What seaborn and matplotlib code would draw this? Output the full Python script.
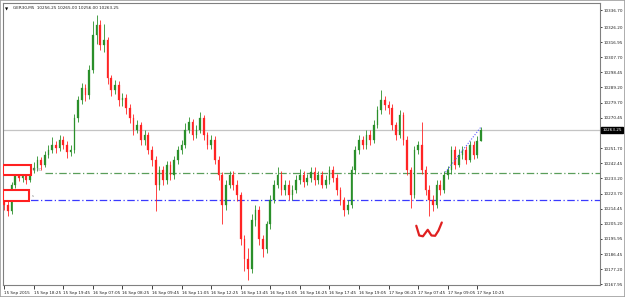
import matplotlib
matplotlib.use("Agg")
import matplotlib.pyplot as plt
import matplotlib.transforms as mtransforms
from matplotlib.patches import Rectangle
import numpy as np
import pandas as pd
import seaborn as sns

# ---------------- data (GER30, M5, shown as 10-minute candles) ----------------
first_open = 10221.0
closes = [10217.0, 10212.8, 10229.3, 10237.3, 10233.6, 10237.3, 10232.4, 10238.5, 10239.8, 10244.7,
          10241.6, 10247.7, 10250.8, 10253.9, 10252.0, 10256.9, 10253.9, 10249.6, 10250.8, 10270.4,
          10281.5, 10288.8, 10284.5, 10299.9, 10321.4, 10327.5, 10315.2, 10318.3, 10295.0, 10287.6,
          10290.7, 10281.5, 10282.7, 10276.6, 10270.4, 10263.1, 10266.1, 10256.9, 10260.0, 10250.8,
          10244.7, 10229.3, 10238.5, 10232.4, 10241.6, 10235.5, 10244.7, 10250.8, 10253.9, 10263.1,
          10268.0, 10260.0, 10263.1, 10270.4, 10260.0, 10253.9, 10256.9, 10244.7, 10235.5, 10217.0,
          10229.3, 10235.5, 10229.3, 10223.2, 10195.6, 10183.3, 10177.2, 10207.8, 10214.0, 10195.6,
          10189.4, 10204.8, 10220.1, 10229.3, 10235.5, 10226.3, 10229.3, 10223.2, 10226.3, 10232.4,
          10235.5, 10231.2, 10233.6, 10237.3, 10232.4, 10235.5, 10229.3, 10232.4, 10238.5, 10233.6,
          10226.3, 10220.1, 10214.0, 10217.0, 10238.5, 10250.8, 10256.9, 10253.9, 10260.0, 10256.9,
          10266.1, 10275.3, 10281.5, 10278.4, 10276.6, 10266.1, 10260.0, 10272.3, 10256.9, 10238.5,
          10223.2, 10250.8, 10253.9, 10238.5, 10226.3, 10220.1, 10217.0, 10229.3, 10226.3, 10235.5,
          10238.5, 10250.8, 10241.6, 10247.7, 10250.8, 10244.7, 10253.9, 10247.7, 10256.25, 10263.25]
highs = [10223.5, 10219.0, 10231.0, 10240.5, 10239.5, 10239.0, 10239.0, 10241.0, 10243.0, 10247.0,
         10246.5, 10250.0, 10253.5, 10258.5, 10256.0, 10260.0, 10259.0, 10256.0, 10254.0, 10273.0,
         10284.0, 10292.0, 10291.0, 10303.0, 10330.0, 10333.6, 10331.0, 10328.0, 10320.0, 10297.0,
         10294.0, 10293.0, 10286.0, 10285.0, 10279.0, 10273.0, 10269.0, 10268.0, 10263.0, 10262.0,
         10253.0, 10247.0, 10241.0, 10241.0, 10244.0, 10244.0, 10247.0, 10253.0, 10257.0, 10267.0,
         10271.0, 10270.0, 10266.0, 10274.1, 10272.0, 10262.0, 10260.0, 10259.0, 10247.0, 10237.0,
         10232.0, 10238.0, 10238.0, 10232.0, 10225.0, 10198.0, 10190.0, 10211.0, 10217.0, 10216.0,
         10198.0, 10207.0, 10223.0, 10232.0, 10240.0, 10238.0, 10232.0, 10232.0, 10229.0, 10235.0,
         10239.0, 10238.0, 10236.0, 10240.0, 10240.0, 10238.0, 10238.0, 10235.0, 10241.0, 10241.0,
         10236.0, 10228.0, 10222.0, 10220.0, 10241.0, 10253.0, 10260.0, 10259.0, 10263.0, 10263.0,
         10269.0, 10278.0, 10287.6, 10284.0, 10281.0, 10279.0, 10268.0, 10275.0, 10274.0, 10259.0,
         10240.0, 10253.0, 10256.5, 10268.0, 10241.0, 10229.0, 10223.0, 10232.0, 10232.0, 10238.0,
         10241.0, 10253.0, 10253.0, 10251.0, 10253.0, 10253.0, 10256.0, 10256.0, 10259.0, 10265.0]
lows = [10213.5, 10209.7, 10211.5, 10227.5, 10231.5, 10231.0, 10230.0, 10231.0, 10236.5, 10238.0,
        10238.5, 10240.0, 10245.5, 10249.0, 10249.0, 10250.0, 10251.0, 10246.0, 10247.0, 10249.0,
        10268.0, 10279.0, 10281.0, 10282.0, 10298.0, 10316.0, 10312.0, 10311.0, 10291.0, 10284.0,
        10285.0, 10278.0, 10278.0, 10273.0, 10267.0, 10260.0, 10261.0, 10254.0, 10254.0, 10248.0,
        10241.0, 10212.8, 10226.0, 10229.0, 10230.0, 10232.0, 10233.0, 10242.0, 10248.0, 10252.0,
        10261.0, 10257.0, 10258.0, 10261.0, 10257.0, 10251.0, 10251.0, 10242.0, 10232.0, 10204.8,
        10214.0, 10227.0, 10226.0, 10219.0, 10192.0, 10176.0, 10170.4, 10175.0, 10204.0, 10192.0,
        10184.5, 10187.0, 10202.0, 10218.0, 10227.0, 10223.0, 10223.0, 10220.0, 10220.0, 10224.0,
        10230.0, 10228.0, 10229.0, 10231.0, 10229.0, 10230.0, 10227.0, 10227.0, 10230.0, 10231.0,
        10223.0, 10217.0, 10209.7, 10211.0, 10215.0, 10236.0, 10248.0, 10251.0, 10251.0, 10254.0,
        10255.0, 10264.0, 10273.0, 10275.0, 10273.0, 10263.0, 10257.0, 10258.0, 10254.0, 10235.0,
        10215.2, 10221.0, 10248.0, 10236.0, 10223.0, 10209.7, 10213.0, 10215.0, 10223.0, 10224.0,
        10233.0, 10236.0, 10239.0, 10240.0, 10245.0, 10242.0, 10243.0, 10245.0, 10246.0, 10256.0]
opens = [first_open] + closes[:-1]

x_labels = ["15 Sep 2015", "15 Sep 18:25", "15 Sep 19:45", "16 Sep 07:05", "16 Sep 08:25",
            "16 Sep 09:45", "16 Sep 11:05", "16 Sep 12:25", "16 Sep 13:45", "16 Sep 15:05",
            "16 Sep 16:25", "16 Sep 17:45", "16 Sep 19:05", "17 Sep 06:25", "17 Sep 07:45",
            "17 Sep 09:05", "17 Sep 10:25"]
label_step = 8
y_ticks = [10336.70, 10326.20, 10316.95, 10307.70, 10298.45, 10289.20, 10279.70, 10270.45,
           10261.20, 10251.70, 10242.45, 10233.20, 10223.70, 10214.45, 10205.20, 10195.95,
           10186.45, 10177.20, 10167.95]
current_price = 10263.25
level_green = 10236.6
level_blue = 10220.1
trend_x = [119.4, 128.9]
trend_y = [10237.0, 10264.5]
title = "GER30,M5  10256.25 10265.00 10256.00 10263.25"

# ---------------- figure ----------------
sns.set_theme(style="white")
plt.rcParams['font.family'] = ['DejaVu Sans']
FS = 3.0

fig = plt.figure(figsize=(6.25, 2.97), dpi=100)
fig.patch.set_facecolor("white")
ax = fig.add_axes([3 / 625, 12 / 297, 597 / 625, 282 / 297])
ax.set_facecolor("white")

df = pd.DataFrame({"i": np.arange(len(closes)), "o": opens, "h": highs, "l": lows, "c": closes})
df["up"] = df["c"] >= df["o"]
green = "#2a8f2a"
red = "#ff2424"
cols = np.where(df["up"], green, red)

ax.vlines(df["i"], df["l"], df["h"], colors=cols, lw=0.6, zorder=3)
body_bottom = np.minimum(df["o"], df["c"])
body_h = np.maximum(np.abs(df["c"] - df["o"]), 0.4)
ax.bar(df["i"], body_h, bottom=body_bottom, width=0.45, color=cols, edgecolor=cols,
       linewidth=0.2, zorder=4)

# horizontal levels
ax.axhline(current_price, color="#c4c4c4", lw=0.9, zorder=1)
ax.axhline(level_green, xmin=0.07, color="#5a9e5a", lw=0.9, ls=(0, (6, 2, 1, 2)), zorder=2)
ax.axhline(level_blue, color="#3a3aff", lw=0.9, ls=(0, (6, 2, 1, 2)), zorder=2)

# trend line
sns.lineplot(x=trend_x, y=trend_y, ax=ax, color="#5a5aff", lw=0.8, ls=(0, (1, 1.5)), zorder=5)

# hand drawn "w"
w_x = [111.5, 112.3, 113.3, 114.6, 115.6, 116.6, 117.5, 118.4]
w_y = [10204.0, 10198.0, 10197.5, 10201.5, 10198.0, 10197.8, 10201.0, 10206.0]
ax.plot(w_x, w_y, color="#e02020", lw=1.6, solid_capstyle="round", zorder=6)

# red label boxes on the left
ax.add_patch(Rectangle((-0.3, 10235.3), 7.6, 6.1, facecolor="white", edgecolor="#ff2020",
                       lw=1.5, zorder=7))
ax.add_patch(Rectangle((-0.3, 10219.4), 7.0, 6.7, facecolor="white", edgecolor="#ff2020",
                       lw=1.5, zorder=7))
ax.text(7.8, 10238.6, "B 2C", fontsize=2.6, color="#808080", va="center", ha="left", zorder=8)
ax.text(7.5, 10222.3, "s", fontsize=2.6, color="#808080", va="center", ha="left", zorder=8)

# limits
ax.set_xlim(-0.3, 161.2)
ax.set_ylim(10167.5, 10341.2)

# x ticks
ax.set_xticks(np.arange(len(x_labels)) * label_step)
ax.set_xticklabels(x_labels, fontsize=FS, ha="left", color="#202020")
offset = mtransforms.ScaledTranslation(1.2 / 100, 0, fig.dpi_scale_trans)
for lbl in ax.get_xticklabels():
    lbl.set_transform(lbl.get_transform() + offset)

# y ticks on the right
ax.yaxis.tick_right()
ax.set_yticks(y_ticks)
ax.set_yticklabels([f"{v:.2f}" for v in y_ticks], fontsize=FS, color="#202020")
ax.tick_params(axis="y", right=True, length=1.5, width=0.6, pad=1.2, colors="#202020")
ax.tick_params(axis="x", bottom=True, length=3, width=0.6, pad=1.2, colors="#202020")

for s in ax.spines.values():
    s.set_color("#808080")
    s.set_linewidth(0.8)

# current price tag
trans = mtransforms.blended_transform_factory(ax.transAxes, ax.transData)
ax.text(1.004, current_price, "10263.25", transform=trans, fontsize=FS, color="white",
        ha="left", va="center", zorder=10, clip_on=False,
        bbox=dict(boxstyle="square,pad=0.25", facecolor="black", edgecolor="black"))

# title
ax.text(0.004, 0.985, "▼", transform=ax.transAxes, fontsize=3.0, color="black",
        ha="left", va="top")
ax.text(0.017, 0.99, title, transform=ax.transAxes, fontsize=FS, color="#202020",
        ha="left", va="top")

# outer border
fig.add_artist(Rectangle((0, 0), 1, 1, transform=fig.transFigure, fill=False,
                         edgecolor="#a0a0a0", lw=1.2))

ax.set_xlabel("")
ax.set_ylabel("")
fig.savefig("out.png", dpi=100, facecolor="white")
